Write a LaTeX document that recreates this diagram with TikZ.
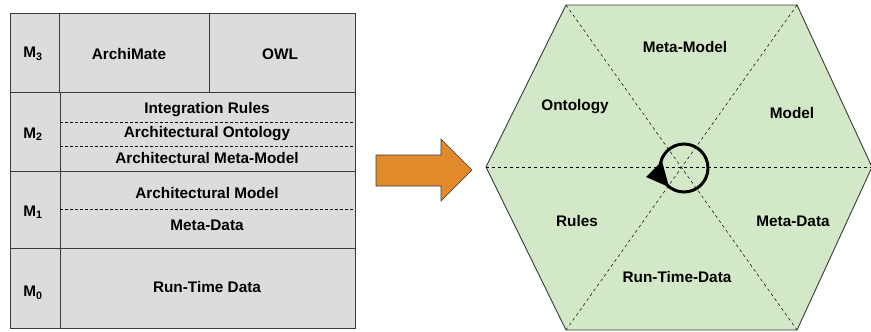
\documentclass[tikz,border=0pt]{standalone}
\usepackage{fontspec}
\setmainfont{Liberation Sans}
\definecolor{cellgray}{HTML}{DCDCDC}
\definecolor{linegray}{HTML}{3A3A3A}
\definecolor{hexgreen}{HTML}{D3E8C6}
\definecolor{arroworange}{HTML}{E08A2C}
\begin{document}
\begin{tikzpicture}[x=1bp,y=-1bp,
  lbl/.style={font=\fontsize{15.4}{18}\selectfont\bfseries, inner sep=0pt, anchor=center},
  cell/.style={draw=linegray, line width=0.9bp},
  sep/.style={draw=black, dashed, line width=0.6bp, dash pattern=on 3bp off 2bp},
  hexsep/.style={draw=black, dashed, line width=0.5bp, dash pattern=on 3bp off 3bp}]
\useasboundingbox (0,0) rectangle (871,331);
% ---- table ----
\fill[cellgray] (10,13) rectangle (355,328);
\draw[cell] (10,13) rectangle (355,328);
\draw[cell] (10,92) -- (355,92);
\draw[cell] (10,171) -- (355,171);
\draw[cell] (10,248) -- (355,248);
\draw[cell] (59,13) -- (59,92);
\draw[cell] (60,92) -- (60,328);
\draw[cell] (209,13) -- (209,92);
\draw[sep] (60,122) -- (355,122);
\draw[sep] (60,146) -- (355,146);
\draw[sep] (60,209) -- (355,209);
\node[lbl] (m3) at (33,54) {M\textsubscript{3}};
\node[lbl] (m2) at (33,134) {M\textsubscript{2}};
\node[lbl] (m1) at (33,212) {M\textsubscript{1}};
\node[lbl] (m0) at (33,293) {M\textsubscript{0}};
\node[lbl] (archimate) at (129,54) {ArchiMate};
\node[lbl] (owl) at (280,54) {OWL};
\node[lbl] (intrules) at (207,110) {Integration Rules};
\node[lbl] (archont) at (207,134) {Architectural Ontology};
\node[lbl] (archmm) at (207,158) {Architectural Meta-Model};
\node[lbl] (archmodel) at (207,193) {Architectural Model};
\node[lbl] (metadata) at (207,225) {Meta-Data};
\node[lbl] (runtime) at (207,287) {Run-Time Data};
% ---- big arrow ----
\draw[fill=arroworange, draw=linegray, line width=0.6bp]
  (376,155) -- (441,155) -- (441,139) -- (472,170) -- (441,201) -- (441,186) -- (376,186) -- cycle;
% ---- hexagon ----
\coordinate (htl) at (566,5);
\coordinate (htr) at (797,5);
\coordinate (hr) at (872,167);
\coordinate (hbr) at (797,330);
\coordinate (hbl) at (566,330);
\coordinate (hl) at (486,167);
\draw[fill=hexgreen, draw=linegray, line width=0.9bp] (htl) -- (htr) -- (hr) -- (hbr) -- (hbl) -- (hl) -- cycle;
\draw[hexsep] (hl) -- (hr);
\draw[hexsep] (htl) -- (hbr);
\draw[hexsep] (htr) -- (hbl);
\node[lbl] (hmm) at (685,47) {Meta-Model};
\node[lbl] (hont) at (575,107) {Ontology};
\node[lbl] (hmodel) at (792,113) {Model};
\node[lbl] (hrules) at (577,221) {Rules};
\node[lbl] (hmd) at (793,221) {Meta-Data};
\node[lbl] (hrtd) at (677,277) {Run-Time-Data};
% ---- cycle arrow ----
\coordinate (cc) at (684,168);
\draw[line width=3bp] (cc) circle (24);
\fill (646,177) -- (662,161) -- (669,187) -- cycle;
\end{tikzpicture}
\end{document}
